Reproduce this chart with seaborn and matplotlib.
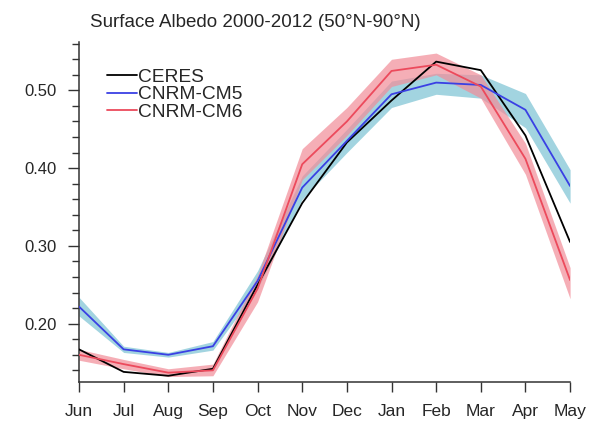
import numpy as np
import pandas as pd
import matplotlib
matplotlib.use("Agg")
import matplotlib.pyplot as plt
import seaborn as sns

# monthly surface albedo, Jun -> May
months = ['Jun', 'Jul', 'Aug', 'Sep', 'Oct', 'Nov', 'Dec', 'Jan', 'Feb', 'Mar', 'Apr', 'May']

ceres = [0.167, 0.138, 0.133, 0.142, 0.250, 0.355, 0.433, 0.487, 0.537, 0.526, 0.442, 0.305]
cm5 = [0.222, 0.167, 0.160, 0.171, 0.255, 0.375, 0.435, 0.495, 0.510, 0.507, 0.475, 0.377]
cm6 = [0.160, 0.148, 0.137, 0.140, 0.245, 0.405, 0.460, 0.525, 0.533, 0.505, 0.412, 0.256]

# ensemble spread
cm5_lo = [0.210, 0.163, 0.157, 0.166, 0.245, 0.360, 0.420, 0.478, 0.495, 0.490, 0.452, 0.355]
cm5_hi = [0.234, 0.171, 0.163, 0.177, 0.268, 0.390, 0.450, 0.512, 0.522, 0.520, 0.496, 0.398]
cm6_lo = [0.153, 0.142, 0.132, 0.133, 0.228, 0.385, 0.442, 0.505, 0.520, 0.490, 0.392, 0.232]
cm6_hi = [0.167, 0.154, 0.142, 0.148, 0.262, 0.425, 0.478, 0.540, 0.548, 0.520, 0.432, 0.272]

x = np.arange(len(months))
df = pd.DataFrame({
    'month': np.tile(x, 3),
    'albedo': ceres + cm5 + cm6,
    'source': ['CERES'] * 12 + ['CNRM-CM5'] * 12 + ['CNRM-CM6'] * 12,
})
colors = {'CERES': 'black', 'CNRM-CM5': '#3a40e4', 'CNRM-CM6': '#ec4a5c'}

sns.set_style('ticks')
plt.rcParams['font.family'] = ['Liberation Sans', 'DejaVu Sans']

fig = plt.figure(figsize=(5.92, 4.26), dpi=100)
ax = fig.add_axes([0.1334, 0.1033, 0.8296, 0.7977])

ax.fill_between(x, cm5_lo, cm5_hi, color='#a2d4e0', lw=0, zorder=1)
ax.fill_between(x, cm6_lo, cm6_hi, color='#f28c98', alpha=0.7, lw=0, zorder=1)

sns.lineplot(data=df, x='month', y='albedo', hue='source', palette=colors,
             linewidth=1.3, ax=ax, zorder=3)

ax.set_xlim(0, 11)
ax.set_ylim(0.125, 0.562)
ax.set_xticks(x)
ax.set_xticklabels(months, fontsize=12.5)
ax.set_yticks([0.2, 0.3, 0.4, 0.5])
ax.set_yticklabels(['0.20', '0.30', '0.40', '0.50'], fontsize=12)
ax.set_yticks(np.arange(0.14, 0.561, 0.02), minor=True)
ax.tick_params(axis='x', length=7, width=1, pad=9, color='#333333')
ax.tick_params(axis='y', which='major', length=8, width=1, pad=8, color='#333333')
ax.tick_params(axis='y', which='minor', length=5, width=1, color='#333333')
ax.set_xlabel('')
ax.set_ylabel('')
sns.despine(ax=ax)
for s in ['left', 'bottom']:
    ax.spines[s].set_linewidth(1.1)
    ax.spines[s].set_color('#333333')

ax.legend(loc='upper left', bbox_to_anchor=(0.041, 0.945), frameon=False, fontsize=13.75,
          handlelength=1.57, handletextpad=0.06, labelspacing=0.0, borderaxespad=0)

fig.text(0.152, 0.948, 'Surface Albedo 2000-2012 (50°N-90°N)', fontsize=13.5, va='center')

fig.savefig('out.png', dpi=100)
